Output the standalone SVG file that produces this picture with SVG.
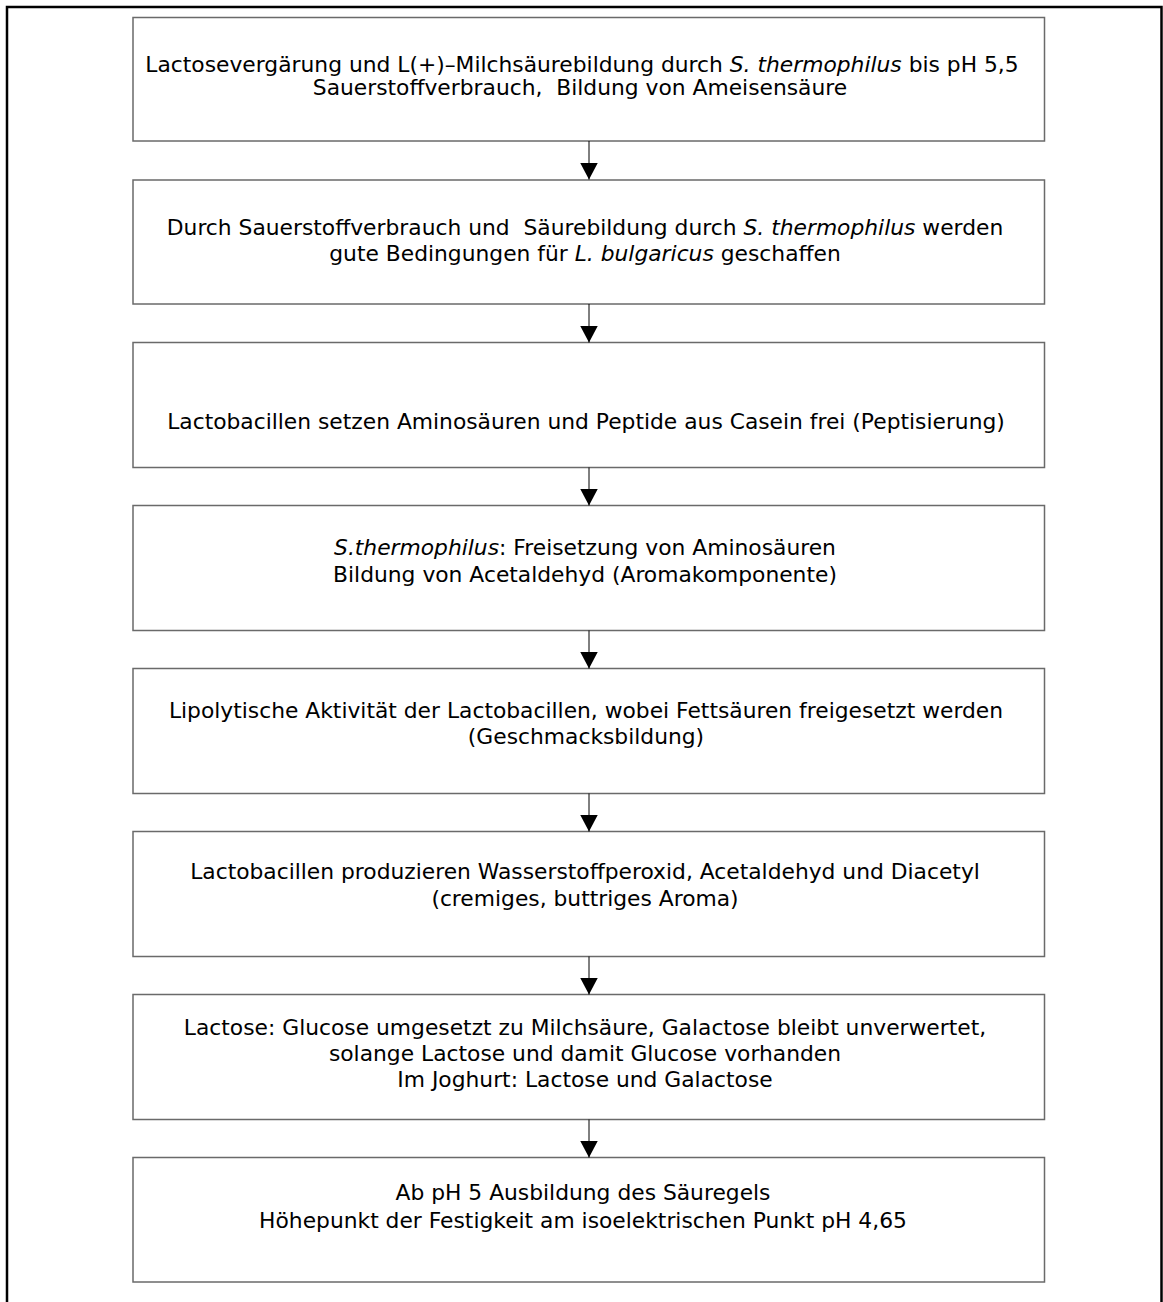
<svg xmlns="http://www.w3.org/2000/svg" width="1163" height="1302" viewBox="0 0 1163 1302">
<style>
.box{fill:#fff;stroke:#6a6a6a;stroke-width:1.5}
.t{font-family:"DejaVu Sans",Verdana,sans-serif;font-size:21.8px;fill:#000;text-anchor:middle;white-space:pre}
.i{font-style:italic}
.c{stroke:#000;stroke-width:1;fill:none}
.frame{stroke:#000;stroke-width:2.5;fill:none}
</style>
<defs>
<marker id="ah" markerWidth="17" markerHeight="18" refX="17" refY="9" orient="auto" markerUnits="userSpaceOnUse" viewBox="0 0 17 18">
<path d="M0,0 L17,9 L0,18 Z" fill="#000"/>
</marker>
</defs>
<path class="frame" d="M7,1302 L7,7 L1161.5,7 L1161.5,1302"/>
<g id="n1"><rect class="box" x="133" y="17.5" width="911.5" height="123.5"/>
<text class="t" x="582" y="72">Lactosevergärung und L(+)–Milchsäurebildung durch <tspan class="i">S. thermophilus</tspan> bis pH 5,5</text>
<text class="t" x="580" y="94.5">Sauerstoffverbrauch,  Bildung von Ameisensäure</text></g>
<g id="n2"><rect class="box" x="133" y="180" width="911.5" height="124"/>
<text class="t" x="585" y="235">Durch Sauerstoffverbrauch und  Säurebildung durch <tspan class="i">S. thermophilus</tspan> werden</text>
<text class="t" x="585" y="261">gute Bedingungen für <tspan class="i">L. bulgaricus</tspan> geschaffen</text></g>
<g id="n3"><rect class="box" x="133" y="342.5" width="911.5" height="125"/>
<text class="t" x="586" y="429">Lactobacillen setzen Aminosäuren und Peptide aus Casein frei (Peptisierung)</text></g>
<g id="n4"><rect class="box" x="133" y="505.5" width="911.5" height="125"/>
<text class="t" x="585" y="555"><tspan class="i">S.thermophilus</tspan>: Freisetzung von Aminosäuren</text>
<text class="t" x="585" y="582">Bildung von Acetaldehyd (Aromakomponente)</text></g>
<g id="n5"><rect class="box" x="133" y="668.5" width="911.5" height="125"/>
<text class="t" x="586" y="718">Lipolytische Aktivität der Lactobacillen, wobei Fettsäuren freigesetzt werden</text>
<text class="t" x="586" y="744">(Geschmacksbildung)</text></g>
<g id="n6"><rect class="box" x="133" y="831.5" width="911.5" height="125"/>
<text class="t" x="585" y="879">Lactobacillen produzieren Wasserstoffperoxid, Acetaldehyd und Diacetyl</text>
<text class="t" x="585" y="906">(cremiges, buttriges Aroma)</text></g>
<g id="n7"><rect class="box" x="133" y="994.5" width="911.5" height="125"/>
<text class="t" x="585" y="1035">Lactose: Glucose umgesetzt zu Milchsäure, Galactose bleibt unverwertet,</text>
<text class="t" x="585" y="1061">solange Lactose und damit Glucose vorhanden</text>
<text class="t" x="585" y="1087">Im Joghurt: Lactose und Galactose</text></g>
<g id="n8"><rect class="box" x="133" y="1157.5" width="911.5" height="124.5"/>
<text class="t" x="583" y="1200">Ab pH 5 Ausbildung des Säuregels</text>
<text class="t" x="583" y="1228">Höhepunkt der Festigkeit am isoelektrischen Punkt pH 4,65</text></g>
<g id="connectors">
<line class="c" x1="589" y1="141" x2="589" y2="179.5" marker-end="url(#ah)"/>
<line class="c" x1="589" y1="304" x2="589" y2="342.5" marker-end="url(#ah)"/>
<line class="c" x1="589" y1="467.5" x2="589" y2="505.5" marker-end="url(#ah)"/>
<line class="c" x1="589" y1="630.5" x2="589" y2="668.5" marker-end="url(#ah)"/>
<line class="c" x1="589" y1="793.5" x2="589" y2="831.5" marker-end="url(#ah)"/>
<line class="c" x1="589" y1="956.5" x2="589" y2="994.5" marker-end="url(#ah)"/>
<line class="c" x1="589" y1="1119.5" x2="589" y2="1157.5" marker-end="url(#ah)"/>
</g>
</svg>
